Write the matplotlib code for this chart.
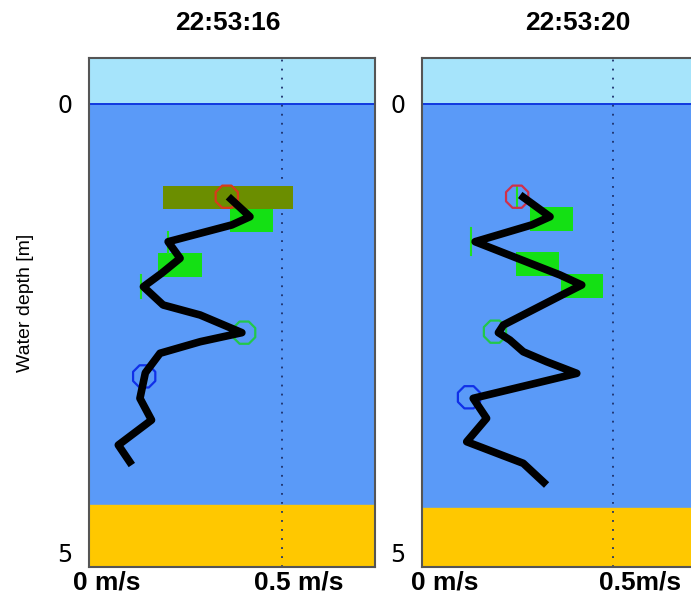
import matplotlib.pyplot as plt
from matplotlib.patches import Rectangle

plt.rcParams['font.family'] = ['Liberation Sans', 'DejaVu Sans']

# velocity profile, left panel (m/s, m)
left_vel = [0.361, 0.417, 0.370, 0.205, 0.236, 0.188, 0.141, 0.192, 0.288, 0.396,
            0.288, 0.184, 0.146, 0.132, 0.162, 0.076, 0.111]
left_depth = [1.035, 1.258, 1.350, 1.537, 1.722, 1.890, 2.039, 2.243, 2.355, 2.552,
              2.653, 2.782, 3.000, 3.285, 3.527, 3.806, 4.029]

# velocity profile, right panel
right_vel = [0.257, 0.335, 0.287, 0.139, 0.361, 0.418, 0.366, 0.213, 0.200, 0.230,
             0.265, 0.326, 0.405, 0.134, 0.169, 0.117, 0.265, 0.326]
right_depth = [1.016, 1.258, 1.350, 1.537, 1.908, 2.020, 2.132, 2.467, 2.552, 2.634,
               2.765, 2.876, 3.006, 3.285, 3.508, 3.769, 4.010, 4.252]

# green boxes: (v0, v1, d0, d1, colour)
left_boxes = [(0.191, 0.528, 0.915, 1.175, '#6b8e00'),
              (0.365, 0.477, 1.175, 1.432, '#14e014'),
              (0.180, 0.292, 1.660, 1.927, '#14e014')]
right_boxes = [(0.283, 0.396, 1.153, 1.417, '#14e014'),
               (0.246, 0.359, 1.655, 1.916, '#14e014'),
               (0.363, 0.475, 1.901, 2.162, '#14e014')]

# small green vertical ticks: (v, d0, d1)
left_ticks = [(0.205, 1.425, 1.663), (0.135, 1.908, 2.165)]
right_ticks = [(0.128, 1.384, 1.685), (0.249, 0.923, 1.161)]

# marker circles: (v, d, colour)
left_circles = [(0.357, 1.035, '#d83a1c'), (0.402, 2.552, '#22c84a'), (0.143, 3.040, '#1030e8')]
right_circles = [(0.249, 1.035, '#d0304a'), (0.191, 2.541, '#22c84a'), (0.123, 3.273, '#1030e8')]

titles = ['22:53:16', '22:53:20']
sand_top = [4.475, 4.509]
x_max = [0.741, 0.704]


def draw_panel(ax, vel, depth, boxes, ticks, circles, sand, xmax):
  ax.set_xlim(0, xmax)
  ax.set_ylim(5.167, -0.513)
  # sky, water, bottom
  ax.axhspan(-0.513, 0, color='#a6e4fb', zorder=0)
  ax.axhspan(0, sand, color='#5a9af8', zorder=0)
  ax.axhspan(sand, 5.167, color='#ffc800', zorder=0)
  ax.axhline(0, color='#1038e0', lw=1.4, zorder=1)
  ax.axvline(0.5, color='#1c2f6a', lw=1.3, dashes=(1, 4), zorder=1)
  for v0, v1, d0, d1, c in boxes:
    ax.add_patch(Rectangle((v0, d0), v1 - v0, d1 - d0, color=c, lw=0, zorder=2))
  for v, d0, d1 in ticks:
    ax.plot([v, v], [d0, d1], color='#20e020', lw=1.5, zorder=2)
  for v, d, c in circles:
    ax.scatter(v, d, s=300, marker='8', facecolors='none', edgecolors=c, linewidths=1.6, zorder=3)
  ax.plot(vel, depth, color='black', lw=5.5, solid_capstyle='butt', solid_joinstyle='round', zorder=4)
  ax.set_xticks([])
  ax.set_yticks([0, 5])
  ax.set_yticklabels(['0', '5'], fontsize=17, family='DejaVu Sans')
  ax.tick_params(axis='y', length=0, pad=12)
  for s in ax.spines.values():
    s.set_color('#555555')
    s.set_linewidth(1.5)


fig = plt.figure(figsize=(6.91, 5.96), dpi=100)
ax1 = fig.add_axes([89 / 691, 29 / 596, 286 / 691, 509 / 596])
ax2 = fig.add_axes([422 / 691, 29 / 596, 269 / 691, 509 / 596])

draw_panel(ax1, left_vel, left_depth, left_boxes, left_ticks, left_circles, sand_top[0], x_max[0])
draw_panel(ax2, right_vel, right_depth, right_boxes, right_ticks, right_circles, sand_top[1], x_max[1])
ax2.spines['right'].set_visible(False)

fig.text(228 / 691, 1 - 23 / 596, titles[0], fontsize=19, fontweight='bold', ha='center', va='center')
fig.text(578 / 691, 1 - 23 / 596, titles[1], fontsize=19, fontweight='bold', ha='center', va='center')
fig.text(25 / 691, 1 - 303 / 596, 'Water depth [m]', fontsize=14, rotation=90, ha='center', va='center')

# speed labels under each panel
fig.text(107 / 691, 13 / 596, '0 m/s', fontsize=19, fontweight='bold', ha='center', va='center')
fig.text(299 / 691, 13 / 596, '0.5 m/s', fontsize=19, fontweight='bold', ha='center', va='center')
fig.text(445 / 691, 13 / 596, '0 m/s', fontsize=19, fontweight='bold', ha='center', va='center')
fig.text(640 / 691, 13 / 596, '0.5m/s', fontsize=19, fontweight='bold', ha='center', va='center')

fig.savefig('out.png', dpi=100)
